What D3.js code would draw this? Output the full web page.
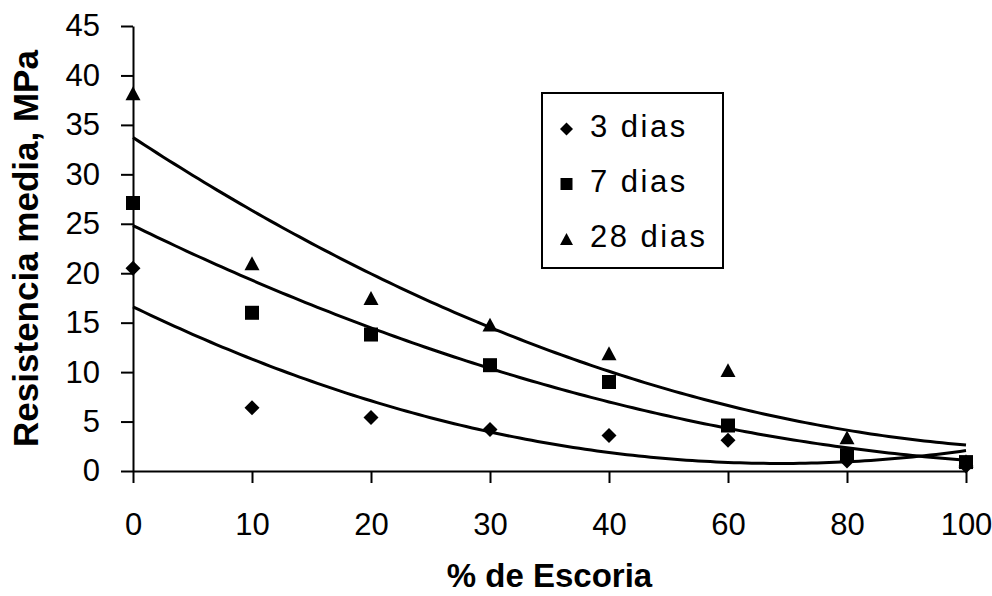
<!DOCTYPE html>
<html>
<head>
<meta charset="utf-8">
<script src="https://cdn.jsdelivr.net/npm/d3@7"></script>
<style>
  html, body { margin: 0; padding: 0; background: #fff; }
  svg { display: block; }
  text { font-family: "Liberation Sans", Arial, sans-serif; fill: #000; }
</style>
</head>
<body>
<svg id="chart" width="992" height="596"></svg>
<script>
// ---- data ----
const categories = ["0", "10", "20", "30", "40", "60", "80", "100"];
const dias3  = [20.5, 6.4, 5.4, 4.2, 3.6, 3.1, 1.0, 0.5];
const dias7  = [27.1, 16.0, 13.8, 10.7, 9.0, 4.6, 1.6, 0.9];
const dias28 = [38.2, 21.0, 17.5, 14.8, 11.9, 10.2, 3.4, 1.0];
const seriesNames = ["3 dias", "7 dias", "28 dias"];
const yTickValues = [0, 5, 10, 15, 20, 25, 30, 35, 40, 45];
const xTitle = "% de Escoria";
const yTitle = "Resistencia media, MPa";

const series = [
  { name: seriesNames[0], values: dias3,  shape: "diamond" },
  { name: seriesNames[1], values: dias7,  shape: "square" },
  { name: seriesNames[2], values: dias28, shape: "triangle" }
];

// ---- layout ----
const svg = d3.select("#chart");
const plotL = 133, plotR = 966, plotT = 26, plotB = 471;

const x = d3.scalePoint().domain(categories).range([plotL, plotR]);
const xi = d3.scaleLinear().domain([0, categories.length - 1]).range([plotL, plotR]);
const y = d3.scaleLinear().domain([0, 45]).range([plotB, plotT]);

// ---- symbols ----
const shapes = {
  diamond: { draw(ctx, s) { const r = s / 2; ctx.moveTo(0, -r); ctx.lineTo(r, 0); ctx.lineTo(0, r); ctx.lineTo(-r, 0); ctx.closePath(); } },
  square:  { draw(ctx, s) { const r = s / 2 - 0.5; ctx.rect(-r, -r, 2 * r, 2 * r); } },
  triangle:{ draw(ctx, s) { const w = s / 2, h = s * 0.93; ctx.moveTo(0, -h / 2); ctx.lineTo(w, h / 2); ctx.lineTo(-w, h / 2); ctx.closePath(); } }
};
const sym = (shape, size) => d3.symbol().type(shapes[shape]).size(size)();

// ---- quadratic least-squares trendline (over category index) ----
function quadFit(vals) {
  let S = [0, 0, 0, 0, 0], T = [0, 0, 0];
  vals.forEach((v, i) => {
    for (let k = 0; k < 5; k++) S[k] += Math.pow(i, k);
    for (let k = 0; k < 3; k++) T[k] += Math.pow(i, k) * v;
  });
  const A = [[S[0], S[1], S[2], T[0]], [S[1], S[2], S[3], T[1]], [S[2], S[3], S[4], T[2]]];
  for (let c = 0; c < 3; c++) {
    for (let r = c + 1; r < 3; r++) {
      const f = A[r][c] / A[c][c];
      for (let k = c; k < 4; k++) A[r][k] -= f * A[c][k];
    }
  }
  const coef = [0, 0, 0];
  for (let r = 2; r >= 0; r--) {
    let s = A[r][3];
    for (let k = r + 1; k < 3; k++) s -= A[r][k] * coef[k];
    coef[r] = s / A[r][r];
  }
  return t => coef[0] + coef[1] * t + coef[2] * t * t;
}

// ---- axes ----
const yAxis = d3.axisLeft(y).tickValues(yTickValues).tickSize(12).tickSizeOuter(0).tickPadding(21);
const gy = svg.append("g").attr("transform", `translate(${plotL},0)`).call(yAxis);
gy.selectAll("text").style("font-size", "31px").style("font-family", '"Liberation Sans", Arial, sans-serif');

const xAxis = d3.axisBottom(x).tickSize(12).tickSizeOuter(0).tickPadding(30);
const gx = svg.append("g").attr("transform", `translate(0,${plotB})`).call(xAxis);
gx.selectAll("text").style("font-size", "31px").style("font-family", '"Liberation Sans", Arial, sans-serif');

svg.selectAll(".domain, .tick line").attr("stroke", "#000").attr("stroke-width", 2);

// ---- trendlines ----
const line = d3.line().x(d => xi(d[0])).y(d => y(d[1]));
series.forEach(s => {
  const f = quadFit(s.values);
  const pts = d3.range(0, categories.length - 1 + 1e-9, 0.05).map(t => [t, f(t)]);
  svg.append("path").attr("d", line(pts))
    .attr("fill", "none").attr("stroke", "#000").attr("stroke-width", 3)
    .attr("stroke-linejoin", "round");
});

// ---- markers ----
series.forEach(s => {
  svg.append("g").selectAll("path").data(s.values).join("path")
    .attr("transform", (d, i) => `translate(${x(categories[i])},${y(d)})`)
    .attr("d", sym(s.shape, 15))
    .attr("fill", "#000");
});

// ---- titles ----
svg.append("text").attr("x", (plotL + plotR) / 2).attr("y", 587)
  .attr("text-anchor", "middle").style("font-size", "33px").style("font-weight", "bold")
  .text(xTitle);
svg.append("text").attr("transform", `translate(38,${(plotT + plotB) / 2}) rotate(-90)`)
  .attr("text-anchor", "middle").style("font-size", "35px").style("font-weight", "bold")
  .text(yTitle);

// ---- legend ----
const lg = svg.append("g");
lg.append("rect").attr("x", 542).attr("y", 93).attr("width", 181).attr("height", 175)
  .attr("fill", "#fff").attr("stroke", "#000").attr("stroke-width", 2);
series.forEach((s, i) => {
  const by = 137 + i * 55;
  lg.append("path").attr("transform", `translate(566.5,${by - 8})`).attr("d", sym(s.shape, 13)).attr("fill", "#000");
  lg.append("text").attr("x", 590).attr("y", by).style("font-size", "31px")
    .style("letter-spacing", "2.5px").text(s.name);
});
</script>
</body>
</html>
